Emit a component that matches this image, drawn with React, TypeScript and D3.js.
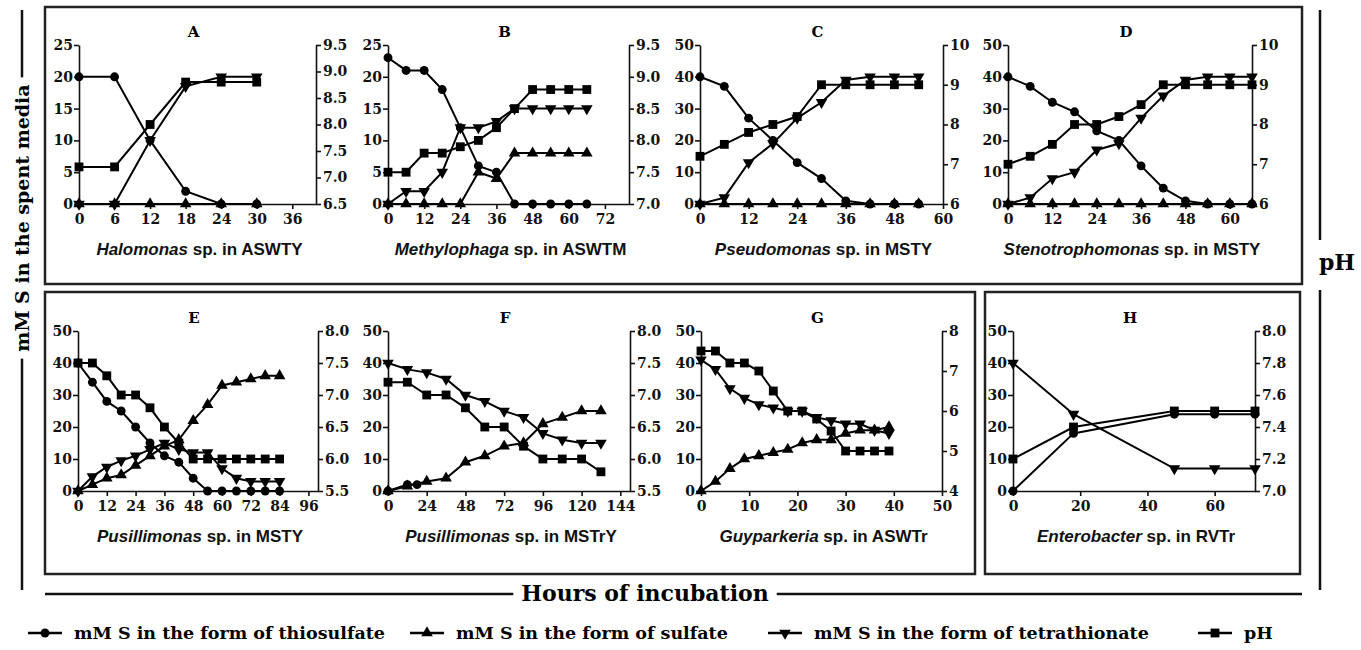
import React, { useRef, useEffect } from "react";
import * as d3 from "d3";

// -----------------------------
// Data (mM S and pH)
// -----------------------------
// A: Halomonas sp. in ASWTY
const hoursA = [0, 6, 12, 18, 24, 30];
const thioA = [20, 20, 10, 2, 0, 0];
const sulfA = [0, 0, 0, 0, 0, 0];
const tetraA = [0, 0, 10, 18.5, 20, 20];
const phA = [7.2, 7.2, 8.0, 8.8, 8.8, 8.8];

// B: Methylophaga sp. in ASWTM
const hoursB = [0, 6, 12, 18, 24, 30, 36, 42, 48, 54, 60, 66];
const thioB = [23, 21, 21, 18, 12, 6, 5, 0, 0, 0, 0, 0];
const sulfB = [0, 0, 0, 0, 0, 5, 4, 8, 8, 8, 8, 8];
const tetraB = [0, 2, 2, 5, 12, 12, 13, 15, 15, 15, 15, 15];
const phB = [7.5, 7.5, 7.8, 7.8, 7.9, 8.0, 8.2, 8.5, 8.8, 8.8, 8.8, 8.8];

// C: Pseudomonas sp. in MSTY
const hoursC = [0, 6, 12, 18, 24, 30, 36, 42, 48, 54];
const thioC = [40, 37, 27, 20, 13, 8, 1, 0, 0, 0];
const sulfC = [0, 0, 0, 0, 0, 0, 0, 0, 0, 0];
const tetraC = [0, 2, 13, 19, 27, 32, 39, 40, 40, 40];
const phC = [7.2, 7.5, 7.8, 8.0, 8.2, 9.0, 9.0, 9.0, 9.0, 9.0];

// D: Stenotrophomonas sp. in MSTY
const hoursD = [0, 6, 12, 18, 24, 30, 36, 42, 48, 54, 60, 66];
const thioD = [40, 37, 32, 29, 23, 20, 12, 5, 1, 0, 0, 0];
const sulfD = [0, 0, 0, 0, 0, 0, 0, 0, 0, 0, 0, 0];
const tetraD = [0, 2, 8, 10, 17, 19, 27, 34, 39, 40, 40, 40];
const phD = [7.0, 7.2, 7.5, 8.0, 8.0, 8.2, 8.5, 9.0, 9.0, 9.0, 9.0, 9.0];

// E: Pusillimonas sp. in MSTY
const hoursE = [0, 6, 12, 18, 24, 30, 36, 42, 48, 54, 60, 66, 72, 78, 84];
const thioE = [40, 34, 28, 25, 20, 15, 11, 9, 4, 0, 0, 0, 0, 0, 0];
const sulfE = [0, 2, 4, 5, 8, 11, 14, 16, 22, 27, 33, 34, 35, 36, 36];
const tetraE = [0, 4.5, 7.5, 9.5, 11, 13, 15, 13, 12, 12, 7, 4, 3, 3, 3];
const phE = [7.5, 7.5, 7.3, 7.0, 7.0, 6.8, 6.5, 6.25, 6.0, 6.0, 6.0, 6.0, 6.0, 6.0, 6.0];

// F: Pusillimonas sp. in MSTrY
const hoursF = [0, 12, 24, 36, 48, 60, 72, 84, 96, 108, 120, 132];
const sulfF = [0, 1.5, 3, 4, 9, 11, 14, 15, 21, 23, 25, 25];
const tetraF = [40, 38, 37, 35, 30, 28, 25, 23, 18, 16, 15, 15];
const phF = [7.2, 7.2, 7.0, 7.0, 6.8, 6.5, 6.5, 6.2, 6.0, 6.0, 6.0, 5.8];
const hoursThioF = [0, 12, 18];
const thioF = [0, 2, 2];

// G: Guyparkeria sp. in ASWTr
const hoursG = [0, 3, 6, 9, 12, 15, 18, 21, 24, 27, 30, 33, 36, 39];
const sulfG = [0, 3, 7, 10, 11, 12, 13, 15, 16, 16, 18, 19, 19, 20];
const tetraG = [41, 38, 32, 29, 27, 26, 25, 25, 23, 22, 21, 21, 19, 18];
const phG = [7.5, 7.5, 7.2, 7.2, 7.0, 6.5, 6.0, 6.0, 5.8, 5.5, 5.0, 5.0, 5.0, 5.0];

// H: Enterobacter sp. in RVTr
const hoursH = [0, 18, 48, 60, 72];
const thioH = [0, 18, 24, 24, 24];
const tetraH = [40, 24, 7, 7, 7];
const phH = [7.2, 7.4, 7.5, 7.5, 7.5];

const legendLabels = [
    "mM S in the form of thiosulfate",
    "mM S in the form of sulfate",
    "mM S in the form of tetrathionate",
    "pH",
];

type Kind = "thio" | "sulf" | "tetra" | "ph";
type Series = { kind: Kind; hours: number[]; values: number[] };

type Panel = {
    letter: string;
    genus: string;
    medium: string;
    box: [number, number, number, number]; // left, right, top, bottom
    xMax: number;
    xTicks: number[];
    sMax: number;
    sTicks: number[];
    ph: [number, number];
    phTicks: number[];
    phFmt: string;
    series: Series[];
};

const panels: Panel[] = [
    {
        letter: "A", genus: "Halomonas", medium: "ASWTY", box: [79, 316, 45, 204],
        xMax: 40, xTicks: [0, 6, 12, 18, 24, 30, 36], sMax: 25, sTicks: [0, 5, 10, 15, 20, 25],
        ph: [6.5, 9.5], phTicks: [6.5, 7, 7.5, 8, 8.5, 9, 9.5], phFmt: ".1f",
        series: [
            { kind: "thio", hours: hoursA, values: thioA },
            { kind: "sulf", hours: hoursA, values: sulfA },
            { kind: "tetra", hours: hoursA, values: tetraA },
            { kind: "ph", hours: hoursA, values: phA },
        ],
    },
    {
        letter: "B", genus: "Methylophaga", medium: "ASWTM", box: [388, 629, 45, 204],
        xMax: 80, xTicks: [0, 12, 24, 36, 48, 60, 72], sMax: 25, sTicks: [0, 5, 10, 15, 20, 25],
        ph: [7, 9.5], phTicks: [7, 7.5, 8, 8.5, 9, 9.5], phFmt: ".1f",
        series: [
            { kind: "thio", hours: hoursB, values: thioB },
            { kind: "sulf", hours: hoursB, values: sulfB },
            { kind: "tetra", hours: hoursB, values: tetraB },
            { kind: "ph", hours: hoursB, values: phB },
        ],
    },
    {
        letter: "C", genus: "Pseudomonas", medium: "MSTY", box: [700, 943, 45, 204],
        xMax: 60, xTicks: [0, 12, 24, 36, 48, 60], sMax: 50, sTicks: [0, 10, 20, 30, 40, 50],
        ph: [6, 10], phTicks: [6, 7, 8, 9, 10], phFmt: "d",
        series: [
            { kind: "thio", hours: hoursC, values: thioC },
            { kind: "sulf", hours: hoursC, values: sulfC },
            { kind: "tetra", hours: hoursC, values: tetraC },
            { kind: "ph", hours: hoursC, values: phC },
        ],
    },
    {
        letter: "D", genus: "Stenotrophomonas", medium: "MSTY", box: [1008, 1252, 45, 204],
        xMax: 66, xTicks: [0, 12, 24, 36, 48, 60], sMax: 50, sTicks: [0, 10, 20, 30, 40, 50],
        ph: [6, 10], phTicks: [6, 7, 8, 9, 10], phFmt: "d",
        series: [
            { kind: "thio", hours: hoursD, values: thioD },
            { kind: "sulf", hours: hoursD, values: sulfD },
            { kind: "tetra", hours: hoursD, values: tetraD },
            { kind: "ph", hours: hoursD, values: phD },
        ],
    },
    {
        letter: "E", genus: "Pusillimonas", medium: "MSTY", box: [78, 318, 331, 491],
        xMax: 100, xTicks: [0, 12, 24, 36, 48, 60, 72, 84, 96], sMax: 50, sTicks: [0, 10, 20, 30, 40, 50],
        ph: [5.5, 8], phTicks: [5.5, 6, 6.5, 7, 7.5, 8], phFmt: ".1f",
        series: [
            { kind: "thio", hours: hoursE, values: thioE },
            { kind: "sulf", hours: hoursE, values: sulfE },
            { kind: "tetra", hours: hoursE, values: tetraE },
            { kind: "ph", hours: hoursE, values: phE },
        ],
    },
    {
        letter: "F", genus: "Pusillimonas", medium: "MSTrY", box: [388, 630, 331, 491],
        xMax: 150, xTicks: [0, 24, 48, 72, 96, 120, 144], sMax: 50, sTicks: [0, 10, 20, 30, 40, 50],
        ph: [5.5, 8], phTicks: [5.5, 6, 6.5, 7, 7.5, 8], phFmt: ".1f",
        series: [
            { kind: "thio", hours: hoursThioF, values: thioF },
            { kind: "sulf", hours: hoursF, values: sulfF },
            { kind: "tetra", hours: hoursF, values: tetraF },
            { kind: "ph", hours: hoursF, values: phF },
        ],
    },
    {
        letter: "G", genus: "Guyparkeria", medium: "ASWTr", box: [701, 942, 331, 491],
        xMax: 50, xTicks: [0, 10, 20, 30, 40, 50], sMax: 50, sTicks: [0, 10, 20, 30, 40, 50],
        ph: [4, 8], phTicks: [4, 5, 6, 7, 8], phFmt: "d",
        series: [
            { kind: "sulf", hours: hoursG, values: sulfG },
            { kind: "tetra", hours: hoursG, values: tetraG },
            { kind: "ph", hours: hoursG, values: phG },
        ],
    },
    {
        letter: "H", genus: "Enterobacter", medium: "RVTr", box: [1013, 1255, 331, 491],
        xMax: 72, xTicks: [0, 20, 40, 60], sMax: 50, sTicks: [0, 10, 20, 30, 40, 50],
        ph: [7, 8], phTicks: [7, 7.2, 7.4, 7.6, 7.8, 8], phFmt: ".1f",
        series: [
            { kind: "thio", hours: hoursH, values: thioH },
            { kind: "tetra", hours: hoursH, values: tetraH },
            { kind: "ph", hours: hoursH, values: phH },
        ],
    },
];

const SERIF = "'DejaVu Serif', serif";
const SANS = "'Liberation Sans', Arial, sans-serif";

const symbolFor = (kind: Kind) => {
    if (kind === "thio") return d3.symbol().type(d3.symbolCircle).size(62)();
    if (kind === "ph") return d3.symbol().type(d3.symbolSquare).size(78)();
    return d3.symbol().type(d3.symbolTriangle).size(58)();
};

const drawMarker = (
    g: d3.Selection<SVGGElement, unknown, null, undefined>,
    kind: Kind,
    x: number,
    y: number
) => {
    g.append("path")
        .attr("d", symbolFor(kind) as string)
        .attr("fill", "#000")
        .attr("transform", `translate(${x},${y})${kind === "tetra" ? " rotate(180)" : ""}`);
};

const styleAxis = (a: d3.Selection<SVGGElement, unknown, null, undefined>) => {
    a.attr("font-family", SERIF).attr("font-size", 14).attr("font-weight", "bold");
    a.selectAll("path").attr("stroke", "#111").attr("stroke-width", 1.6);
    a.selectAll("line").attr("stroke", "#111").attr("stroke-width", 1.6);
    a.selectAll("text").attr("fill", "#111");
};

const App: React.FC = () => {
    const svgRef = useRef<SVGSVGElement | null>(null);
    const width = 1361;
    const height = 650;

    useEffect(() => {
        document.body.style.margin = "0";
        if (!svgRef.current) return;
        const svg = d3.select(svgRef.current);
        svg.selectAll("*").remove();

        // -----------------------------
        // Frames
        // -----------------------------
        const frames: [number, number, number, number][] = [
            [45, 7, 1257, 277],
            [45, 292, 930, 282],
            [985, 292, 315, 282],
        ];
        frames.forEach(([fx, fy, fw, fh]) => {
            svg.append("rect")
                .attr("x", fx).attr("y", fy).attr("width", fw).attr("height", fh)
                .attr("fill", "none").attr("stroke", "#222").attr("stroke-width", 2.5);
        });

        // -----------------------------
        // Panels
        // -----------------------------
        panels.forEach(p => {
            const [l, r, t, b] = p.box;
            const x = d3.scaleLinear().domain([0, p.xMax]).range([l, r]);
            const yS = d3.scaleLinear().domain([0, p.sMax]).range([b, t]);
            const yP = d3.scaleLinear().domain(p.ph).range([b, t]);
            const g = svg.append("g");

            const xa = g.append("g").attr("transform", `translate(0,${b})`)
                .call(d3.axisBottom(x).tickValues(p.xTicks).tickSize(5).tickSizeOuter(0).tickPadding(5).tickFormat(d3.format("d")));
            styleAxis(xa);
            const la = g.append("g").attr("transform", `translate(${l},0)`)
                .call(d3.axisLeft(yS).tickValues(p.sTicks).tickSize(5).tickSizeOuter(0).tickPadding(1).tickFormat(d3.format("d")));
            styleAxis(la);
            const ra = g.append("g").attr("transform", `translate(${r},0)`)
                .call(d3.axisRight(yP).tickValues(p.phTicks).tickSize(5).tickSizeOuter(0).tickPadding(2).tickFormat(d3.format(p.phFmt)));
            styleAxis(ra);

            // title letter
            g.append("text")
                .attr("x", (l + r) / 2 - 4).attr("y", t - 8)
                .attr("text-anchor", "middle")
                .attr("font-family", SERIF).attr("font-size", 15).attr("font-weight", "bold")
                .text(p.letter);

            // subtitle
            const sub = g.append("text")
                .attr("x", (l + r) / 2 + 2).attr("y", b + 51)
                .attr("text-anchor", "middle")
                .attr("font-family", SANS).attr("font-size", 17).attr("font-weight", "bold")
                .attr("fill", "#111");
            sub.append("tspan").attr("font-style", "italic").text(p.genus);
            sub.append("tspan").text(` sp. in ${p.medium}`);

            // series
            p.series.forEach(s => {
                const yScale = s.kind === "ph" ? yP : yS;
                const pts: [number, number][] = s.hours.map((h, i) => [x(h), yScale(s.values[i])]);
                g.append("path")
                    .attr("d", d3.line()(pts) as string)
                    .attr("fill", "none")
                    .attr("stroke", "#000")
                    .attr("stroke-width", 2);
                pts.forEach(([px, py]) => drawMarker(g, s.kind, px, py));
            });
        });

        // -----------------------------
        // Outer labels
        // -----------------------------
        const yMid = 218;
        const yLab = svg.append("text")
            .attr("transform", `translate(29,${yMid}) rotate(-90)`)
            .attr("text-anchor", "middle")
            .attr("font-family", SERIF).attr("font-size", 19).attr("font-weight", "bold")
            .text("mM S in the spent media");
        const yLen = (yLab.node() as SVGTextElement).getComputedTextLength();
        svg.append("line").attr("x1", 22).attr("x2", 22).attr("y1", 10).attr("y2", yMid - yLen / 2 - 7)
            .attr("stroke", "#111").attr("stroke-width", 2.5);
        svg.append("line").attr("x1", 22).attr("x2", 22).attr("y1", yMid + yLen / 2 + 7).attr("y2", 590)
            .attr("stroke", "#111").attr("stroke-width", 2.5);

        svg.append("text")
            .attr("x", 1337).attr("y", 270)
            .attr("text-anchor", "middle")
            .attr("font-family", SERIF).attr("font-size", 22).attr("font-weight", "bold")
            .text("pH");
        svg.append("line").attr("x1", 1320).attr("x2", 1320).attr("y1", 10).attr("y2", 240)
            .attr("stroke", "#111").attr("stroke-width", 2.5);
        svg.append("line").attr("x1", 1320).attr("x2", 1320).attr("y1", 290).attr("y2", 590)
            .attr("stroke", "#111").attr("stroke-width", 2.5);

        const xLab = svg.append("text")
            .attr("x", 645).attr("y", 601)
            .attr("text-anchor", "middle")
            .attr("font-family", SERIF).attr("font-size", 22).attr("font-weight", "bold")
            .text("Hours of incubation");
        const xLen = (xLab.node() as SVGTextElement).getComputedTextLength();
        svg.append("line").attr("x1", 45).attr("x2", 645 - xLen / 2 - 8).attr("y1", 594).attr("y2", 594)
            .attr("stroke", "#111").attr("stroke-width", 2.5);
        svg.append("line").attr("x1", 645 + xLen / 2 + 8).attr("x2", 1302).attr("y1", 594).attr("y2", 594)
            .attr("stroke", "#111").attr("stroke-width", 2.5);

        // -----------------------------
        // Legend
        // -----------------------------
        const kinds: Kind[] = ["thio", "sulf", "tetra", "ph"];
        const legendX = [28, 410, 768, 1198];
        const lg = svg.append("g") as d3.Selection<SVGGElement, unknown, null, undefined>;
        kinds.forEach((k, i) => {
            const lx = legendX[i];
            lg.append("line").attr("x1", lx).attr("x2", lx + 34).attr("y1", 633).attr("y2", 633)
                .attr("stroke", "#000").attr("stroke-width", 2.5);
            drawMarker(lg, k, lx + 17, 633);
            lg.append("text")
                .attr("x", lx + 46).attr("y", 639)
                .attr("font-family", SERIF).attr("font-size", 17.5).attr("font-weight", "bold")
                .text(legendLabels[i]);
        });
    }, []);

    return <svg ref={svgRef} width={width} height={height} style={{ display: "block", background: "#fff" }} />;
};

export default App;
